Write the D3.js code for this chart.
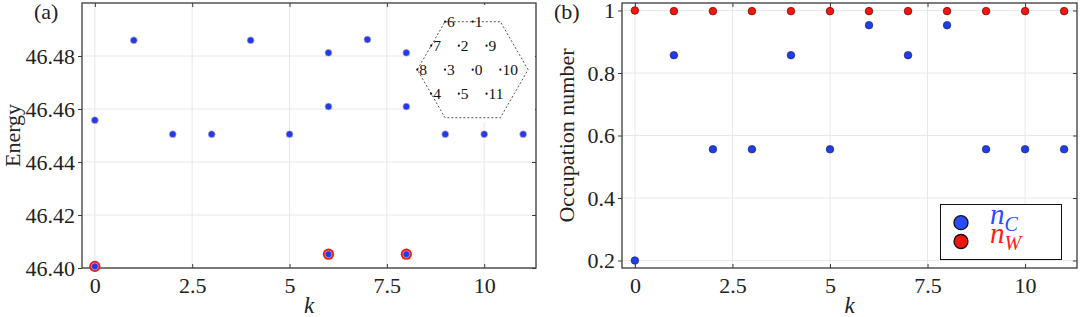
<!DOCTYPE html>
<html>
<head>
<meta charset="utf-8">
<script src="https://cdn.jsdelivr.net/npm/d3@7"></script>
<style>
  body { margin: 0; background: #fff; }
  svg { display: block; }
  text { font-family: "Liberation Serif", "DejaVu Serif", serif; fill: #222; }
</style>
</head>
<body>
<svg id="chart" width="1080" height="317"></svg>
<script>
// ---- data ----
let kTicks = [0, 2.5, 5, 7.5, 10];
let energyTicks = [46.40, 46.42, 46.44, 46.46, 46.48];
let occTicks = [0.2, 0.4, 0.6, 0.8, 1];

// (a) energy levels per momentum k
let levelK = [0, 0, 1, 2, 3, 4, 5, 6, 6, 6, 7, 8, 8, 8, 9, 10, 11];
let levelE = [46.4558, 46.4006, 46.4859, 46.4505, 46.4505, 46.4859, 46.4505,
              46.4812, 46.4609, 46.4052, 46.4862, 46.4812, 46.4609, 46.4052,
              46.4505, 46.4505, 46.4505];
// lowest states (red ring)
let groundK = [0, 6, 8];
let groundE = [46.4006, 46.4052, 46.4052];

// (b) occupation numbers
let kValues = [0, 1, 2, 3, 4, 5, 6, 7, 8, 9, 10, 11];
let nC = [0.2, 0.857, 0.556, 0.556, 0.857, 0.556, 0.953, 0.857, 0.953, 0.556, 0.556, 0.556];
let nW = [1.0, 0.998, 0.998, 0.998, 0.998, 0.998, 0.998, 0.998, 0.998, 0.998, 0.998, 0.998];

// inset: momentum lattice sites (column in lattice units, row)
let siteLabel = ["0", "1", "2", "3", "4", "5", "6", "7", "8", "9", "10", "11"];
let siteCol = [0, 0, -0.5, -1, -1.5, -0.5, -1, -1.5, -2, 0.5, 1, 0.5];
let siteRow = [0, -2, -1, 0, 1, 1, -2, -1, 0, -1, 0, 1];

let blue = "#1f3de8", red = "#f2160f";
let frameColor = "#3a3a3a", gridColor = "#e8e8e8";

let svg = d3.select("#chart");

function panel(opt){
    let g = svg.append("g");
    let x = d3.scaleLinear().domain([-0.33, 11.33]).range([opt.left, opt.right]);
    let y = d3.scaleLinear().domain(opt.yDomain).range([opt.bottom, opt.top]);

    // grid
    g.append("g").selectAll("line").data(kTicks).enter().append("line")
        .attr("x1", d => x(d)).attr("x2", d => x(d))
        .attr("y1", opt.top).attr("y2", opt.bottom)
        .style("stroke", gridColor).style("stroke-width", 1);
    g.append("g").selectAll("line").data(opt.yTicks).enter().append("line")
        .attr("x1", opt.left).attr("x2", opt.right)
        .attr("y1", d => y(d)).attr("y2", d => y(d))
        .style("stroke", gridColor).style("stroke-width", 1);

    // axes
    let ax = g.append("g").attr("transform", `translate(0,${opt.bottom})`)
        .call(d3.axisBottom(x).tickValues(kTicks).tickSize(-4).tickPadding(12).tickFormat(d3.format("")));
    let axTop = g.append("g").attr("transform", `translate(0,${opt.top})`)
        .call(d3.axisTop(x).tickValues(kTicks).tickSize(-4).tickFormat(""));
    let ay = g.append("g").attr("transform", `translate(${opt.left},0)`)
        .call(d3.axisLeft(y).tickValues(opt.yTicks).tickSize(4).tickPadding(3).tickFormat(opt.yFormat));
    let ayR = g.append("g").attr("transform", `translate(${opt.right},0)`)
        .call(d3.axisRight(y).tickValues(opt.yTicks).tickSize(-4).tickFormat(""));
    [ax, axTop, ay, ayR].forEach(a => {
        a.select(".domain").remove();
        a.selectAll("line").style("stroke", frameColor).style("stroke-width", 1);
        a.selectAll("text").style("font-size", "22px").style("fill", "#222")
            .style("font-family", "'Liberation Serif', serif");
    });
    ax.selectAll("text").attr("dy", "0.6em");
    ay.selectAll("text").attr("dy", "0.34em");

    g.append("rect")
        .attr("x", opt.left).attr("y", opt.top)
        .attr("width", opt.right - opt.left).attr("height", opt.bottom - opt.top)
        .style("fill", "none").style("stroke", frameColor).style("stroke-width", 1.3);

    // labels
    g.append("text")
        .attr("x", (opt.left + opt.right) / 2).attr("y", 313)
        .style("font-size", "23px").style("font-style", "italic")
        .style("text-anchor", "middle").text("k");
    g.append("text")
        .attr("transform", `translate(${opt.ylabX},${(opt.top + opt.bottom) / 2}) rotate(-90)`)
        .style("font-size", "22px").style("text-anchor", "middle")
        .text(opt.ylabel);
    g.append("text")
        .attr("x", opt.tagX).attr("y", 19)
        .style("font-size", "22px").text(opt.tag);

    return {g: g, x: x, y: y};
}

// ---- (a) energy ----
let pa = panel({
    left: 82, right: 536, top: 3, bottom: 268,
    yDomain: [46.40, 46.50], yTicks: energyTicks, yFormat: d3.format(".2f"),
    ylabel: "Energy", ylabX: 20, tag: "(a)", tagX: 34
});

// inset: lattice of momenta
let inset = pa.g.append("g");
inset.append("rect")
    .attr("x", 411).attr("y", 5).attr("width", 124).attr("height", 118)
    .style("fill", "#fff");
let a = 27.7, cx0 = 472.7, cy0 = 69.7;
let lx = d3.scaleLinear().domain([0, 1]).range([cx0, cx0 + a]);
let ly = d3.scaleLinear().domain([0, 1]).range([cy0, cy0 + a * Math.sqrt(3) / 2]);
let hex = d3.range(6).map(i => {
    let t = i * Math.PI / 3;
    return [lx(2 * Math.cos(t)), ly(-2 * Math.sin(t) * 2 / Math.sqrt(3))];
});
inset.append("path")
    .attr("d", d3.line()(hex) + "Z")
    .style("fill", "none").style("stroke", "#444")
    .style("stroke-width", 0.9).style("stroke-dasharray", "2 2");
let sites = siteLabel.map((s, i) => ({label: s, c: siteCol[i], r: siteRow[i]}));
inset.selectAll(".site").data(sites).enter().append("circle")
    .attr("class", "site")
    .attr("cx", d => lx(d.c)).attr("cy", d => ly(d.r)).attr("r", 1.1)
    .style("fill", "#111");
inset.selectAll(".siteText").data(sites).enter().append("text")
    .attr("class", "siteText")
    .attr("x", d => lx(d.c) + 2).attr("y", d => ly(d.r) + 5.5)
    .style("font-size", "15.5px").style("fill", "#111")
    .text(d => d.label);

// red rings under the lowest states
pa.g.selectAll(".ground").data(groundK).enter().append("circle")
    .attr("class", "ground")
    .attr("cx", d => pa.x(d)).attr("cy", (d, i) => pa.y(groundE[i])).attr("r", 5.6)
    .style("fill", red);
pa.g.selectAll(".level").data(levelK).enter().append("circle")
    .attr("class", "level")
    .attr("cx", d => pa.x(d)).attr("cy", (d, i) => pa.y(levelE[i])).attr("r", 3.5)
    .style("fill", blue).style("stroke", "#f4c6c6").style("stroke-width", 0.6);

// ---- (b) occupation ----
let pb = panel({
    left: 622, right: 1077, top: 3, bottom: 268,
    yDomain: [0.176, 1.024], yTicks: occTicks, yFormat: d => d === 1 ? "1" : d3.format(".1f")(d),
    ylabel: "Occupation number", ylabX: 574, tag: "(b)", tagX: 554
});

pb.g.selectAll(".nc").data(kValues).enter().append("circle")
    .attr("class", "nc")
    .attr("cx", d => pb.x(d)).attr("cy", (d, i) => pb.y(nC[i])).attr("r", 3.8)
    .style("fill", blue).style("stroke", "#1a1a60").style("stroke-width", 0.6);
pb.g.selectAll(".nw").data(kValues).enter().append("circle")
    .attr("class", "nw")
    .attr("cx", d => pb.x(d)).attr("cy", (d, i) => pb.y(nW[i])).attr("r", 3.8)
    .style("fill", red).style("stroke", "#5a1010").style("stroke-width", 0.7);

// legend
let leg = pb.g.append("g");
leg.append("rect")
    .attr("x", 940.5).attr("y", 204.5).attr("width", 121).attr("height", 55)
    .style("fill", "#fff").style("stroke", "#111").style("stroke-width", 1);
let legItems = [
    {sym: "C", color: "#2a4cff", fill: "#2a4cff", y: 222.7},
    {sym: "W", color: "#ff1a1a", fill: "#f2160f", y: 241.5}
];
legItems.forEach(it => {
    leg.append("circle").attr("cx", 961).attr("cy", it.y).attr("r", 7)
        .style("fill", it.fill).style("stroke", "#111").style("stroke-width", 1.3);
    let t = leg.append("text").attr("x", 990).attr("y", it.y + 1)
        .style("font-size", "29px").style("font-style", "italic")
        .style("fill", it.color);
    t.append("tspan").text("n");
    t.append("tspan").attr("dy", 7).style("font-size", "20px").text(it.sym);
});
</script>
</body>
</html>
